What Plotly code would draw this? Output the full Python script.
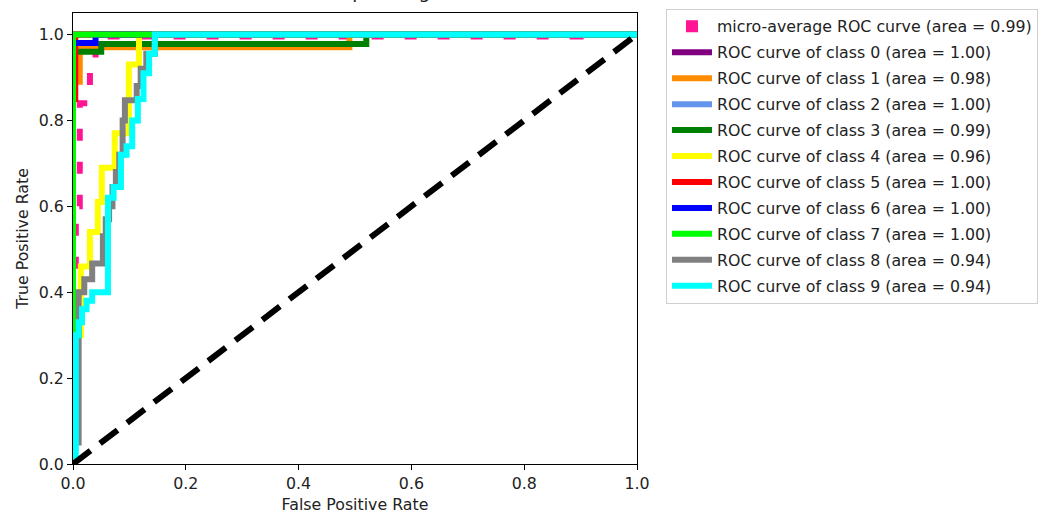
import plotly.graph_objects as go

# ---- data ----
micro_fpr = [0, 0, 0.005, 0.005, 0.012, 0.012, 0.02, 0.02, 0.03, 0.03, 0.04, 0.04, 0.9, 0.9, 1]
micro_tpr = [0, 0.3, 0.3, 0.6, 0.6, 0.84, 0.84, 0.88, 0.88, 0.92, 0.92, 0.995, 0.995, 1.0, 1.0]

class0_fpr = [0, 0, 1]
class0_tpr = [0, 1, 1]

class1_fpr = [0, 0, 0.012, 0.012, 0.49, 0.49, 1]
class1_tpr = [0, 0.89, 0.89, 0.97, 0.97, 1.0, 1.0]

class2_fpr = [0, 0, 1]
class2_tpr = [0, 1, 1]

class3_fpr = [0, 0, 0.05, 0.05, 0.52, 0.52, 1]
class3_tpr = [0, 0.96, 0.96, 0.978, 0.978, 1.0, 1.0]

class4_fpr = [0, 0, 0.014, 0.014, 0.03, 0.03, 0.044, 0.044, 0.051, 0.051, 0.074, 0.074,
              0.099, 0.099, 0.117, 0.117, 1]
class4_tpr = [0, 0.30, 0.30, 0.46, 0.46, 0.54, 0.54, 0.61, 0.61, 0.69, 0.69, 0.77,
              0.77, 0.93, 0.93, 1.0, 1.0]

class5_fpr = [0, 0, 0.004, 0.004, 1]
class5_tpr = [0, 0.85, 0.85, 1.0, 1.0]

class6_fpr = [0, 0, 0.04, 0.04, 1]
class6_tpr = [0, 0.98, 0.98, 1.0, 1.0]

class7_fpr = [0, 0, 1]
class7_tpr = [0, 1, 1]

class8_fpr = [0, 0, 0.01, 0.01, 0.02, 0.02, 0.034, 0.034, 0.053, 0.053, 0.058, 0.058,
              0.064, 0.064, 0.07, 0.07, 0.076, 0.076, 0.082, 0.082, 0.088, 0.088,
              0.092, 0.092, 0.113, 0.113, 0.12, 0.12, 0.13, 0.13, 0.145, 0.145, 1]
class8_tpr = [0, 0.05, 0.05, 0.40, 0.40, 0.43, 0.43, 0.467, 0.467, 0.53, 0.53, 0.57,
              0.57, 0.60, 0.60, 0.645, 0.645, 0.68, 0.68, 0.72, 0.72, 0.80,
              0.80, 0.847, 0.847, 0.88, 0.88, 0.92, 0.92, 0.955, 0.955, 1.0, 1.0]

class9_fpr = [0, 0, 0.005, 0.005, 0.01, 0.01, 0.016, 0.016, 0.024, 0.024, 0.034, 0.034,
              0.062, 0.062, 0.072, 0.072, 0.085, 0.085, 0.095, 0.095, 0.105, 0.105,
              0.115, 0.115, 0.125, 0.125, 0.135, 0.135, 0.145, 0.145, 1]
class9_tpr = [0, 0.02, 0.02, 0.30, 0.30, 0.33, 0.33, 0.36, 0.36, 0.38, 0.38, 0.40,
              0.40, 0.62, 0.62, 0.645, 0.645, 0.72, 0.72, 0.74, 0.74, 0.80,
              0.80, 0.85, 0.85, 0.91, 0.91, 0.955, 0.955, 1.0, 1.0]

class_areas = [1.00, 0.98, 1.00, 0.99, 0.96, 1.00, 1.00, 1.00, 0.94, 0.94]
micro_area = 0.99

diag_x = [0, 1]
diag_y = [0, 1]

x_ticks = [0.0, 0.2, 0.4, 0.6, 0.8, 1.0]
y_ticks = [0.0, 0.2, 0.4, 0.6, 0.8, 1.0]

title_text = "Some extension of Receiver operating characteristic to multi-class"

# ---- styles ----
class_colors = ["#800080", "#FF8C00", "#6495ED", "#008000", "#FFFF00",
                "#FF0000", "#0000FF", "#00FF00", "#808080", "#00FFFF"]
micro_color = "#FF1493"
LW = 6
FONT = "DejaVu Sans"
FS = 15.8
TXT = "#222"

class_fprs = [class0_fpr, class1_fpr, class2_fpr, class3_fpr, class4_fpr,
              class5_fpr, class6_fpr, class7_fpr, class8_fpr, class9_fpr]
class_tprs = [class0_tpr, class1_tpr, class2_tpr, class3_tpr, class4_tpr,
              class5_tpr, class6_tpr, class7_tpr, class8_tpr, class9_tpr]

fig = go.Figure()

# micro-average curve (dashed), legend shown by a square marker entry
fig.add_trace(go.Scatter(
    x=micro_fpr, y=micro_tpr, mode="lines",
    line=dict(color=micro_color, width=LW, dash="12px,21px"),
    showlegend=False, hoverinfo="skip"))
fig.add_trace(go.Scatter(
    x=[None], y=[None], mode="markers",
    marker=dict(symbol="square", size=12, color=micro_color),
    name=f"micro-average ROC curve (area = {micro_area:.2f})",
    legendgroup="micro"))

for i in range(10):
    fig.add_trace(go.Scatter(
        x=class_fprs[i], y=class_tprs[i], mode="lines",
        line=dict(color=class_colors[i], width=LW),
        name=f"ROC curve of class {i} (area = {class_areas[i]:.2f})",
        legendgroup=f"c{i}"))

fig.add_trace(go.Scatter(
    x=diag_x, y=diag_y, mode="lines",
    line=dict(color="black", width=6, dash="22px,12px"),
    showlegend=False, hoverinfo="skip"))

axis_common = dict(
    showline=True, linecolor="black", linewidth=1, mirror=True,
    ticks="outside", ticklen=5, tickcolor="black", tickwidth=1,
    showgrid=False, zeroline=False, automargin=False,
    tickfont=dict(family=FONT, size=FS, color=TXT),
    tickformat=".1f",
)

fig.update_layout(
    width=1045, height=518,
    margin=dict(l=73, r=408, t=13, b=54),
    paper_bgcolor="white", plot_bgcolor="white",
    font=dict(family=FONT, size=FS, color=TXT),
    xaxis=dict(range=[0, 1], tickvals=x_ticks,
               title=dict(text="False Positive Rate", standoff=6,
                          font=dict(family=FONT, size=FS, color=TXT)),
               **axis_common),
    yaxis=dict(range=[0, 1.05], tickvals=y_ticks,
               title=dict(text="True Positive Rate", standoff=6,
                          font=dict(family=FONT, size=FS, color=TXT)),
               **axis_common),
    legend=dict(
        x=0.6373, xref="container", y=1.0099, yref="paper",
        xanchor="left", yanchor="top",
        bordercolor="#d0d0d0", borderwidth=1, bgcolor="white",
        font=dict(family=FONT, size=FS, color=TXT),
        traceorder="grouped", tracegroupgap=2.4, itemwidth=40,
        maxheight=1,
    ),
    annotations=[dict(
        text=title_text, xref="paper", yref="paper", x=0.553, y=1.0206,
        xanchor="center", yanchor="bottom", showarrow=False,
        font=dict(family=FONT, size=18.5, color=TXT))],
)

fig.write_html("out.html", config={"displayModeBar": False},
               post_script="document.body.style.margin='0';")
